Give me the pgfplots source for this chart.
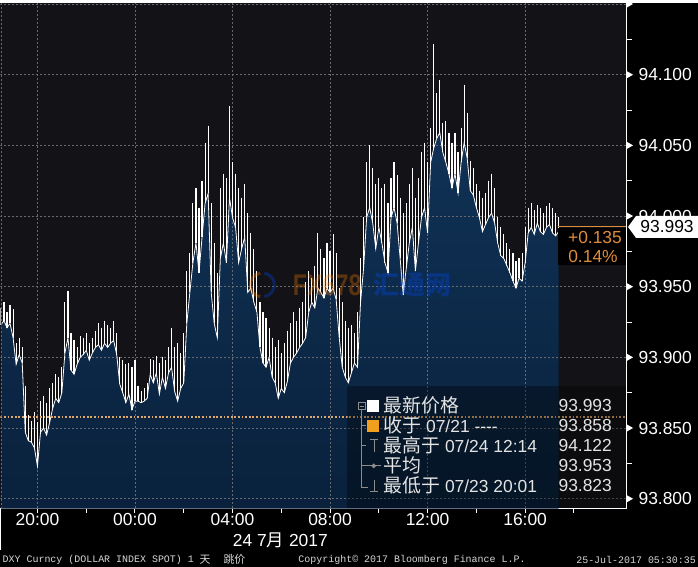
\documentclass[border=0pt]{standalone}
\usepackage{fontspec}
\usepackage{pgfplots}
\usepackage{pgfplotstable}
\pgfplotsset{compat=1.18}
\setmainfont{Liberation Sans}
\newfontfamily\cjk{Noto Sans CJK SC}
\newfontfamily\mono{Liberation Mono}
\definecolor{plotbg}{RGB}{19,18,23}
\definecolor{gridc}{RGB}{105,105,112}
\definecolor{filltop}{RGB}{16,50,86}
\definecolor{fillbot}{RGB}{9,33,60}
\definecolor{closeor}{RGB}{222,168,108}
\definecolor{lastor}{RGB}{222,140,60}
\definecolor{legtxt}{RGB}{228,228,228}
\definecolor{foottxt}{RGB}{215,215,215}
\definecolor{treeg}{RGB}{140,140,140}
\definecolor{sqor}{RGB}{240,160,30}
\newcommand\lt{\fontsize{17.5}{18}\selectfont}
\newcommand\ct{\cjk\fontsize{19}{20}\selectfont}

\pgfplotstableread{
t lo hi
18.500 93.923 93.935
18.625 93.926 93.939
18.750 93.921 93.932
18.875 93.924 93.937
19.000 93.914 93.934
19.125 93.895 93.910
19.250 93.902 93.914
19.375 93.896 93.907
19.500 93.847 93.880
19.625 93.841 93.859
19.750 93.840 93.855
19.875 93.836 93.861
20.000 93.823 93.854
20.125 93.847 93.869
20.250 93.850 93.873
20.375 93.845 93.868
20.500 93.854 93.878
20.625 93.864 93.882
20.750 93.871 93.888
20.875 93.868 93.886
21.000 93.875 93.893
21.125 93.903 93.939
21.250 93.914 93.947
21.375 93.891 93.917
21.500 93.888 93.912
21.625 93.895 93.907
21.750 93.900 93.915
21.875 93.902 93.914
22.000 93.905 93.917
22.125 93.898 93.910
22.250 93.903 93.914
22.375 93.907 93.919
22.500 93.909 93.924
22.625 93.905 93.921
22.750 93.910 93.926
22.875 93.907 93.923
23.000 93.910 93.921
23.125 93.912 93.926
23.250 93.902 93.917
23.375 93.881 93.900
23.500 93.875 93.898
23.625 93.868 93.895
23.750 93.874 93.896
23.875 93.863 93.893
24.000 93.869 93.898
24.125 93.869 93.880
24.250 93.868 93.876
24.375 93.869 93.878
24.500 93.871 93.882
24.625 93.888 93.899
24.750 93.882 93.898
24.875 93.889 93.901
25.000 93.874 93.896
25.125 93.886 93.900
25.250 93.878 93.898
25.375 93.889 93.907
25.500 93.893 93.921
25.625 93.876 93.907
25.750 93.869 93.910
25.875 93.878 93.903
26.000 93.882 93.917
26.125 93.924 93.961
26.250 93.946 93.974
26.375 93.967 94.009
26.500 93.981 94.020
26.625 93.960 94.006
26.750 93.985 94.025
26.875 94.009 94.052
27.000 94.016 94.064
27.125 93.946 94.009
27.250 93.924 93.981
27.375 93.914 93.960
27.500 93.970 94.020
27.625 93.981 94.030
27.750 93.967 94.027
27.875 94.013 94.078
28.000 93.999 94.038
28.125 93.992 94.030
28.250 93.967 94.020
28.375 93.977 94.013
28.500 93.985 94.023
28.625 93.946 94.002
28.750 93.949 93.988
28.875 93.939 93.977
29.000 93.932 93.961
29.125 93.907 93.939
29.250 93.896 93.932
29.375 93.893 93.928
29.500 93.900 93.921
29.625 93.886 93.914
29.750 93.882 93.907
29.875 93.871 93.912
30.000 93.878 93.903
30.125 93.875 93.910
30.250 93.883 93.919
30.375 93.896 93.924
30.500 93.900 93.932
30.625 93.903 93.926
30.750 93.907 93.935
30.875 93.910 93.939
31.000 93.914 93.953
31.125 93.932 93.961
31.250 93.939 93.956
31.375 93.935 93.965
31.500 93.949 93.988
31.625 93.946 93.977
31.750 93.942 93.970
31.875 93.949 93.981
32.000 93.946 93.975
32.125 93.949 93.987
32.250 93.941 93.974
32.375 93.914 93.949
32.500 93.893 93.939
32.625 93.886 93.926
32.750 93.882 93.921
32.875 93.889 93.923
33.000 93.896 93.917
33.125 93.893 93.932
33.250 93.939 93.970
33.375 93.963 93.999
33.500 93.999 94.038
33.625 94.006 94.050
33.750 93.995 94.034
33.875 93.977 94.023
34.000 93.992 94.027
34.125 93.981 94.020
34.250 93.967 94.023
34.375 93.960 94.009
34.500 93.999 94.027
34.625 94.006 94.038
34.750 93.995 94.029
34.875 93.970 94.013
35.000 93.944 94.002
35.125 93.963 94.009
35.250 93.981 94.023
35.375 93.992 94.034
35.500 93.961 94.013
35.625 93.981 94.027
35.750 93.999 94.045
35.875 94.006 94.052
36.000 93.988 94.038
36.125 94.038 94.062
36.250 94.048 94.122
36.375 94.055 94.087
36.500 94.059 94.096
36.625 94.045 94.066
36.750 94.038 94.067
36.875 94.030 94.059
37.000 94.020 94.052
37.125 94.030 94.059
37.250 94.016 94.045
37.375 94.038 94.062
37.500 94.052 94.093
37.625 94.041 94.073
37.750 94.018 94.039
37.875 94.015 94.034
38.000 94.006 94.023
38.125 93.999 94.018
38.250 93.989 94.013
38.375 93.994 94.016
38.500 93.999 94.025
38.625 94.002 94.030
38.750 93.995 94.020
38.875 93.981 93.999
39.000 93.972 93.992
39.125 93.970 93.987
39.250 93.965 93.981
39.375 93.960 93.977
39.500 93.954 93.974
39.625 93.949 93.968
39.750 93.956 93.970
39.875 93.954 93.974
40.000 93.967 93.992
40.125 93.988 94.006
40.250 93.992 94.009
40.375 93.987 94.004
40.500 93.995 94.008
40.625 93.989 94.006
40.750 93.987 94.002
40.875 93.992 94.007
41.000 93.994 94.009
41.125 93.988 94.006
41.250 93.986 94.002
41.375 93.989 93.999
}\dxy

\begin{document}
\begin{tikzpicture}
\begin{scope}[x=1bp,y=1bp]
\useasboundingbox (0,-58) rectangle (698,506);
\fill[black] (0,-58) rectangle (698,506);
\end{scope}
\begin{axis}[
  at={(0,0)}, anchor=south west,
  width=626bp, height=506bp, scale only axis,
  xmin=18.484, xmax=44.14,
  ymin=93.7929, ymax=94.1507,
  axis background/.style={fill=plotbg},
  axis x line*=bottom, axis y line*=right,
  axis line style={white, line width=1bp, -},
  xtick={20,24,28,32,36,40},
  xticklabels={20:00,00:00,04:00,08:00,12:00,16:00},
  minor xtick={22,26,30,34,38,42},
  tick align=outside,
  major tick length=4bp, minor tick length=4bp,
  xtick style={white, line width=1bp},
  ytick={93.80,93.85,93.90,93.95,94.00,94.05,94.10},
  yticklabels={93.800,93.850,93.900,93.950,94.000,94.050,94.100},
  ytick style={draw=none},
  tick label style={font=\lt, text=white},
  xticklabel style={yshift=3bp},
  yticklabel style={anchor=west, xshift=5bp},
]
\addplot[draw=none, top color=filltop, bottom color=fillbot, forget plot]
  table[x=t, y=lo] {\dxy} |- (axis cs:18.5,93.7929) -- cycle;
\pgfplotsinvokeforeach{93.80,93.85,93.90,93.95,94.00,94.05,94.10,94.15}{
  \draw[gridc, line width=0.8bp, dash pattern=on 2bp off 2bp] (axis cs:18.3,#1) -- (axis cs:44.3,#1);
}
\pgfplotsinvokeforeach{20,24,28,32,36,40}{
  \draw[gridc, line width=0.8bp, dash pattern=on 2bp off 2bp] (axis cs:#1,93.7) -- (axis cs:#1,94.2);
}
\addplot[white, line width=0.8bp, forget plot] table[x=t, y=lo] {\dxy};
\addplot[draw=none, forget plot,
  error bars/.cd, y dir=minus, y explicit, error mark=none,
  error bar style={draw=white, line width=1.15bp}]
  table[x=t, y=hi, y error minus expr=\thisrow{hi}-\thisrow{lo}] {\dxy};
\addplot[closeor, line width=1.8bp, dash pattern=on 1.8bp off 1.8bp, forget plot]
  coordinates {(18.484,93.858) (44.14,93.858)};
\end{axis}
\begin{scope}[x=1bp,y=1bp]
% watermark
\begin{scope}[opacity=0.3]
\draw[orange, line width=3bp] (262,224) ++(100:12) arc (100:260:12);
\draw[blue!70!cyan, line width=3bp] (262,224) ++(-80:12) arc (-80:80:12);
\node[font=\bfseries\fontsize{30}{30}\selectfont, xscale=0.78, text=orange] at (327,224) {FX678};
\node[font=\cjk\bfseries\fontsize{26}{26}\selectfont, text=blue!70!cyan] at (412,224) {汇通网};
\end{scope}
% left dashed frame
\draw[gridc, line width=0.8bp, dash pattern=on 2bp off 2bp] (0.5,0) -- (0.5,506);
\draw[white, line width=1bp] (0.5,0) -- (0.5,-41);
% right axis triangles and minor ticks
\foreach \Y in {505.1,434.3,363.6,292.9,222.2,151.5,80.8,10}{
  \fill[white] (626,\Y+4) -- (633,\Y) -- (626,\Y-4) -- cycle;
}
\foreach \Y in {469.7,398.9,328.2,257.5,186.8,116.1,45.4}{
  \draw[white, line width=1bp] (626,\Y) -- (632,\Y);
}
% last price
\fill[black] (558,244) rectangle (625.5,281);
\draw[lastor, line width=1bp] (558,282) -- (626,282);
\node[font=\lt, text=lastor, anchor=east, inner sep=0] at (622,271) {+0.135};
\node[font=\lt, text=lastor, anchor=west, inner sep=0] at (568,252) {0.14\%};
\fill[white] (628,282) -- (636,293) -- (698,293) -- (698,271) -- (636,271) -- cycle;
\node[font=\lt, text=black, inner sep=0] at (667,282) {93.993};
% legend
\fill[black, opacity=0.35] (347,0.5) rectangle (625.5,123);
\draw[treeg, line width=0.8bp] (358,99) rectangle (365,106);
\draw[treeg, line width=0.8bp] (359.5,102.5) -- (363.5,102.5);
\draw[treeg, line width=0.8bp] (361.5,99) -- (361.5,21) -- (368,21);
\foreach \Y in {83,63,43}{\draw[treeg, line width=0.8bp] (361.5,\Y) -- (366,\Y);}
\fill[white] (367,97) rectangle (379,109);
\fill[sqor] (367,77) rectangle (379,89);
\draw[treeg, line width=1bp] (370,69) -- (378,69) (374,69) -- (374,57);
\draw[treeg, line width=1bp] (366,43) -- (381,43);
\fill[treeg] (373.5,45.5) -- (376,43) -- (373.5,40.5) -- (371,43) -- cycle;
\draw[treeg, line width=1bp] (370,17) -- (378,17) (374,17) -- (374,29);
\begin{scope}[every node/.style={text=legtxt, inner sep=0}]
\node[anchor=west] at (383,103) {\ct 最新价格};
\node[anchor=west] at (383,83) {{\ct 收于}\lt\ 07/21 -{}-{}-{}-};
\node[anchor=west] at (383,63) {{\ct 最高于}\lt\ 07/24 12:14};
\node[anchor=west] at (383,43) {\ct 平均};
\node[anchor=west] at (383,23) {{\ct 最低于}\lt\ 07/23 20:01};
\node[anchor=east, font=\lt] at (612,103) {93.993};
\node[anchor=east, font=\lt] at (612,83) {93.858};
\node[anchor=east, font=\lt] at (612,63) {94.122};
\node[anchor=east, font=\lt] at (612,43) {93.953};
\node[anchor=east, font=\lt] at (612,23) {93.823};
\end{scope}
% date label
\node[text=white, font=\lt, inner sep=0] at (280,-32) {24 7{\cjk 月} 2017};
% footer
\begin{scope}[every node/.style={text=foottxt, inner sep=0, anchor=west}]
\node[font=\mono\fontsize{10}{10}\selectfont] at (2,-51) {DXY Curncy (DOLLAR INDEX SPOT) 1};
\node[font=\cjk\fontsize{11}{11}\selectfont] at (199,-51) {天};
\node[font=\cjk\fontsize{11}{11}\selectfont] at (223,-51) {跳价};
\node[font=\mono\fontsize{10}{10}\selectfont] at (298,-51) {Copyright\textcopyright\ 2017 Bloomberg Finance L.P.};
\node[font=\mono\fontsize{10}{10}\selectfont, anchor=east] at (696,-51) {25-Jul-2017 05:30:35};
\end{scope}
\end{scope}
\end{tikzpicture}
\end{document}
